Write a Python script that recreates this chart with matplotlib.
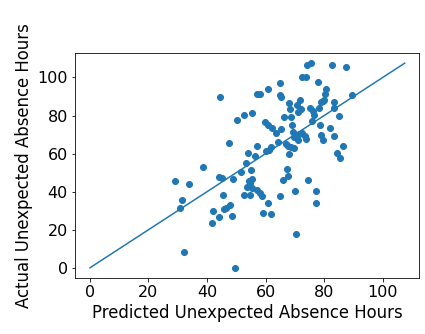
import matplotlib
matplotlib.use("Agg")
import matplotlib.pyplot as plt

# Predicted vs. actual unexpected absence hours per record
predicted = [
    29.0, 33.9, 31.5, 30.8, 32.2, 38.7, 44.5, 44.2, 45.0, 45.3,
    42.1, 41.8, 44.2, 45.8, 46.5, 47.7, 48.5, 48.7, 47.4, 49.4,
    50.2, 52.7, 55.5, 51.6, 53.2, 54.1, 56.3, 55.1, 54.5, 55.5,
    54.8, 53.5, 52.6, 54.6, 55.5, 57.2, 58.1, 58.9, 59.0, 60.8,
    61.8, 56.9, 57.2, 58.1, 60.9, 60.0, 61.3, 62.0, 59.7, 60.8,
    62.2, 65.0, 64.8, 65.4, 63.6, 64.3, 65.4, 64.9, 65.8, 67.7,
    67.3, 67.9, 67.0, 67.8, 66.4, 68.0, 68.5, 68.8, 69.1, 69.5,
    69.8, 68.7, 69.8, 70.0, 70.4, 70.6, 71.2, 71.8, 72.0, 71.0,
    71.5, 72.6, 73.5, 73.7, 72.3, 73.8, 74.0, 75.4, 74.6, 75.2,
    76.0, 76.7, 76.3, 77.8, 77.3, 77.1, 78.1, 78.8, 79.5, 80.1,
    78.5, 78.9, 79.7, 80.5, 80.3, 82.1, 82.7, 83.4, 83.4, 83.5,
    85.2, 84.3, 85.5, 86.3, 87.6, 89.5,
]
actual = [
    45.5, 44.0, 35.4, 31.3, 8.2, 52.7, 89.7, 47.8, 47.0, 38.5,
    29.8, 23.3, 26.6, 31.0, 31.5, 33.1, 27.0, 46.8, 65.7, 0.0,
    77.6, 80.2, 81.4, 50.4, 55.3, 60.2, 58.7, 51.5, 45.5, 46.8,
    44.5, 42.7, 38.5, 38.0, 41.7, 41.0, 39.2, 37.5, 28.7, 34.2,
    28.2, 64.1, 91.2, 91.2, 93.9, 61.5, 62.0, 63.4, 76.7, 75.1,
    73.7, 97.0, 90.9, 89.5, 70.8, 66.2, 72.9, 37.5, 46.1, 48.0,
    51.8, 59.7, 65.1, 64.1, 79.2, 86.5, 83.5, 79.2, 75.1, 71.3,
    68.8, 63.7, 63.2, 40.1, 17.9, 85.6, 82.1, 88.3, 83.5, 67.3,
    70.4, 70.8, 69.0, 67.8, 100.0, 100.5, 106.3, 107.5, 46.1, 83.9,
    77.2, 80.4, 82.3, 97.7, 40.6, 34.2, 83.9, 86.9, 87.4, 88.3,
    74.8, 69.9, 67.3, 93.9, 91.2, 73.7, 106.3, 86.9, 84.2, 69.4,
    79.7, 60.2, 57.6, 64.1, 105.4, 90.7,
]

plt.rcParams["font.size"] = 16
plt.rcParams["font.family"] = "DejaVu Sans"

fig = plt.figure(figsize=(425 / 72, 334 / 72), dpi=72)
ax = fig.add_axes([75 / 425, (334 - 277.7) / 334, 344 / 425, (277.7 - 53.3) / 334])

ax.scatter(predicted, actual, color="#1f77b4", s=36)
top = max(actual)
ax.plot([0, top], [0, top], color="#1f77b4", linewidth=1.5)

ax.set_xlim(-5.1, 112.4)
ax.set_ylim(-5.2, 112.7)
ax.set_xticks([0, 20, 40, 60, 80, 100])
ax.set_yticks([0, 20, 40, 60, 80, 100])
ax.set_xlabel("Predicted Unexpected Absence Hours", fontsize=16.5)
ax.set_ylabel("Actual Unexpected Absence Hours", fontsize=16.5)

fig.savefig("out.png", dpi=72)
